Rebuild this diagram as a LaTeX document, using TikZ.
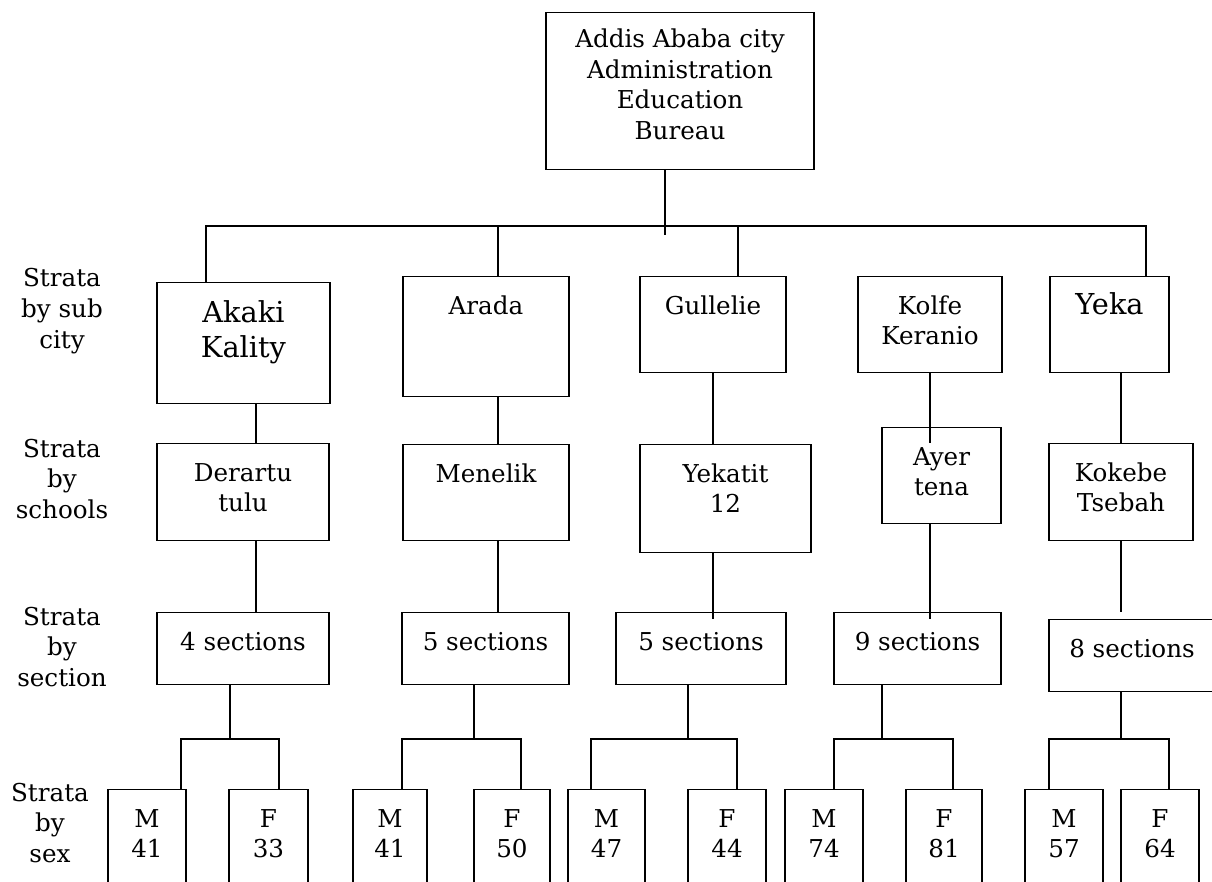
\documentclass[tikz,border=0pt]{standalone}
\usepackage{fontspec}
\setmainfont{DejaVu Serif}

\newcommand{\pxu}{0.025cm}

\begin{document}
\begin{tikzpicture}[x=0.025cm, y=-0.025cm,
		box/.style={draw, line width=0.9pt, align=center, anchor=north, inner sep=0pt,
			font=\fontsize{17.5pt}{22pt}\selectfont},
		sz/.style 2 args={minimum width=#1*\pxu, text height=26.6pt, text depth=#2*\pxu-26.6pt},
		szz/.style 2 args={minimum width=#1*\pxu, text height=48.6pt, text depth=#2*\pxu-48.6pt},
		big/.style={font=\fontsize{20.5pt}{25pt}\selectfont},
		lbl/.style={align=center, font=\fontsize{17.5pt}{22pt}\selectfont},
		link/.style={line width=0.9pt}
		]
	\path[use as bounding box, clip] (0,0) rectangle (1212,882);

	% bureau
	\node [box, minimum width=268*\pxu, text height=90.5pt, text depth=157*\pxu-90.5pt] (aa) at (680,12) {Addis Ababa city\\Administration\\Education\\Bureau};

	% sub cities
	\node [box, big, minimum width=173*\pxu, text height=53.5pt, text depth=121*\pxu-53.5pt] (ak) at (243.5,282) {Akaki\\Kality};
	\node [box, sz={166}{120}] (ar) at (486,276) {Arada};
	\node [box, sz={146}{96}] (gu) at (713,276) {Gullelie};
	\node [box, szz={144}{96}] (ko) at (930,276) {Kolfe\\Keranio};
	\node [box, big, sz={119}{96}] (ye) at (1109.5,276) {Yeka};

	% schools
	\node [box, szz={172}{97}] (de) at (243,443) {Derartu\\tulu};
	\node [box, sz={166}{96}] (me) at (486,444) {Menelik};
	\node [box, szz={171}{108}] (yk) at (725.5,444) {Yekatit\\12};
	\node [box, szz={119}{96}] (ay) at (941.5,427) {Ayer\\tena};
	\node [box, szz={144}{97}] (kk) at (1121,443) {Kokebe\\Tsebah};

	% sections
	\node [box, sz={172}{72}] (s1) at (243,612) {4 sections};
	\node [box, sz={167}{72}] (s2) at (485.5,612) {5 sections};
	\node [box, sz={170}{72}] (s3) at (701,612) {5 sections};
	\node [box, sz={167}{72}] (s4) at (917.5,612) {9 sections};
	\node [box, sz={166}{72}] (s5) at (1132,619) {8 sections};

	% sex
	\node [box, szz={78}{120}] (m1) at (147,789) {M\\41};
	\node [box, szz={79}{120}] (f1) at (268.5,789) {F\\33};
	\node [box, szz={74}{120}] (m2) at (390,789) {M\\41};
	\node [box, szz={76}{120}] (f2) at (512,789) {F\\50};
	\node [box, szz={77}{120}] (m3) at (606.5,789) {M\\47};
	\node [box, szz={78}{120}] (f3) at (727,789) {F\\44};
	\node [box, szz={78}{120}] (m4) at (824,789) {M\\74};
	\node [box, szz={76}{120}] (f4) at (944,789) {F\\81};
	\node [box, szz={78}{120}] (m5) at (1064,789) {M\\57};
	\node [box, szz={78}{120}] (f5) at (1160,789) {F\\64};

	% row labels
	\node [lbl] (l1) at (62,311) {Strata\\by sub\\city};
	\node [lbl] (l2) at (62,479) {Strata\\by\\schools};
	\node [lbl] (l3) at (62,647) {Strata\\by\\section};
	\node [lbl] (l4) at (50,823) {Strata\\by\\sex};

	% bureau to sub cities
	\coordinate (hub) at (665,235);
	\coordinate (bl) at (206,226);
	\coordinate (br) at (1146,226);
	\coordinate (d2) at (498,226);
	\coordinate (d3) at (738,226);
	\draw [link] (aa.south -| hub) -- (hub);
	\draw [link] (bl |- ak.north) -- (bl) -- (br) -- (br |- ye.north);
	\draw [link] (d2) -- (d2 |- ar.north);
	\draw [link] (d3) -- (d3 |- gu.north);

	% sub cities to schools
	\coordinate (k1) at (256,0);
	\draw [link] (k1 |- ak.south) -- (k1 |- de.north);
	\draw [link] (d2 |- ar.south) -- (d2 |- me.north);
	\draw [link] (gu.south) -- (gu.south |- yk.north);
	\draw [link] (ko.south) -- (ko.south |- kk.north);
	\draw [link] (kk.north |- ye.south) -- (kk.north);

	% schools to sections
	\draw [link] (k1 |- de.south) -- (k1 |- s1.north);
	\draw [link] (d2 |- me.south) -- (d2 |- s2.north);
	\draw [link] (gu.south |- yk.south) -- (gu.south |- s5.north);
	\draw [link] (ko.south |- ay.south) -- (ko.south |- s5.north);
	\draw [link] (kk.south) -- (kk.south |- s4.north);

	% sections to sex
	\coordinate (j1) at (230,739);  \coordinate (a1) at (181,739);  \coordinate (b1) at (279,739);
	\coordinate (j2) at (474,739);  \coordinate (a2) at (402,739);  \coordinate (b2) at (521,739);
	\coordinate (j3) at (688,739);  \coordinate (a3) at (591,739);  \coordinate (b3) at (737,739);
	\coordinate (j4) at (882,739);  \coordinate (a4) at (834,739);  \coordinate (b4) at (953,739);
	\coordinate (j5) at (1121,739); \coordinate (a5) at (1049,739); \coordinate (b5) at (1169,739);
	\draw [link] (j1 |- s1.south) -- (j1);
	\draw [link] (a1 |- m1.north) -- (a1) -- (b1) -- (b1 |- f1.north);
	\draw [link] (j2 |- s2.south) -- (j2);
	\draw [link] (a2 |- m2.north) -- (a2) -- (b2) -- (b2 |- f2.north);
	\draw [link] (j3 |- s3.south) -- (j3);
	\draw [link] (a3 |- m3.north) -- (a3) -- (b3) -- (b3 |- f3.north);
	\draw [link] (j4 |- s4.south) -- (j4);
	\draw [link] (a4 |- m4.north) -- (a4) -- (b4) -- (b4 |- f4.north);
	\draw [link] (j5 |- s5.south) -- (j5);
	\draw [link] (a5 |- m5.north) -- (a5) -- (b5) -- (b5 |- f5.north);
\end{tikzpicture}
\end{document}
